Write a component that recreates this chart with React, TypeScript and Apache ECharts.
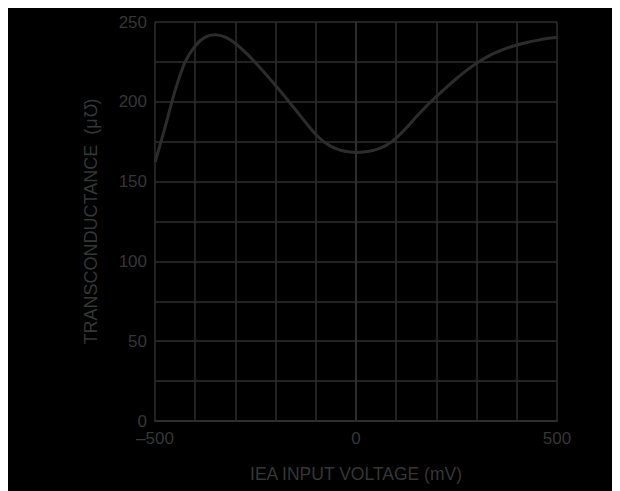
import React, { useEffect, useRef } from "react";
import * as echarts from "echarts";

const voltageMv = [-500, -475, -450, -425, -400, -375, -350, -325, -300, -275, -250, -225, -200, -175, -150, -125, -100, -75, -50, -25, 0, 25, 50, 75, 100, 125, 150, 175, 200, 225, 250, 275, 300, 325, 350, 375, 400, 425, 450, 475, 500];
const transconductance = [162, 184, 207, 225, 235, 240.5, 242, 240.5, 236.5, 231, 224.5, 217.5, 210.2, 202.7, 194.9, 187, 179.5, 174, 170.6, 168.8, 168.3, 168.7, 170, 172.7, 177.2, 183.6, 190.6, 197.2, 203.3, 209.1, 214.6, 219.7, 224.2, 228, 231.1, 233.6, 235.6, 237.2, 238.5, 239.6, 240.4];
const xTickLabels = [-500, 0, 500];
const yTickLabels = [0, 50, 100, 150, 200, 250];

const FONT = "'Liberation Sans', Arial, sans-serif";
const TEXT = "#363636";
const GRID = "#2e2e2e";

export default function App() {
  const ref = useRef<HTMLDivElement>(null);
  useEffect(() => {
    if (!ref.current) return;
    const chart = echarts.init(ref.current, undefined, { renderer: "svg" });
    chart.setOption({
      animation: false,
      backgroundColor: "#000000",
      grid: { left: 147, top: 14, width: 402, height: 399, containLabel: false },
      xAxis: {
        type: "value",
        min: -500,
        max: 500,
        interval: 100,
        name: "IEA INPUT VOLTAGE (mV)",
        nameLocation: "middle",
        nameGap: 44,
        nameTextStyle: { color: TEXT, fontSize: 17.5, fontFamily: FONT },
        axisLine: { show: true, lineStyle: { color: GRID, width: 2 } },
        axisTick: { show: false },
        axisLabel: {
          color: TEXT,
          fontSize: 17,
          fontFamily: FONT,
          margin: 9,
          formatter: (v: number) =>
            xTickLabels.includes(v) ? (v < 0 ? "\u2013" + Math.abs(v) : String(v)) : "",
        },
        splitLine: { show: true, lineStyle: { color: GRID, width: 1.5 } },
      },
      yAxis: {
        type: "value",
        min: 0,
        max: 250,
        interval: 25,
        name: "TRANSCONDUCTANCE  (\u03bc\u2127)",
        nameLocation: "middle",
        nameGap: 55,
        nameTextStyle: { color: TEXT, fontSize: 18, fontFamily: FONT },
        axisLine: { show: true, lineStyle: { color: GRID, width: 2 } },
        axisTick: { show: false },
        axisLabel: {
          color: TEXT,
          fontSize: 17,
          fontFamily: FONT,
          margin: 8,
          formatter: (v: number) => (yTickLabels.includes(v) ? String(v) : ""),
        },
        splitLine: { show: true, lineStyle: { color: GRID, width: 1.5 } },
      },
      series: [
        {
          type: "line",
          data: voltageMv.map((x, i) => [x, transconductance[i]]),
          smooth: 0.3,
          showSymbol: false,
          lineStyle: { color: "#2c2c2c", width: 3 },
        },
      ],
    });
    return () => chart.dispose();
  }, []);
  return <div ref={ref} style={{ width: 612, height: 483 }} />;
}
